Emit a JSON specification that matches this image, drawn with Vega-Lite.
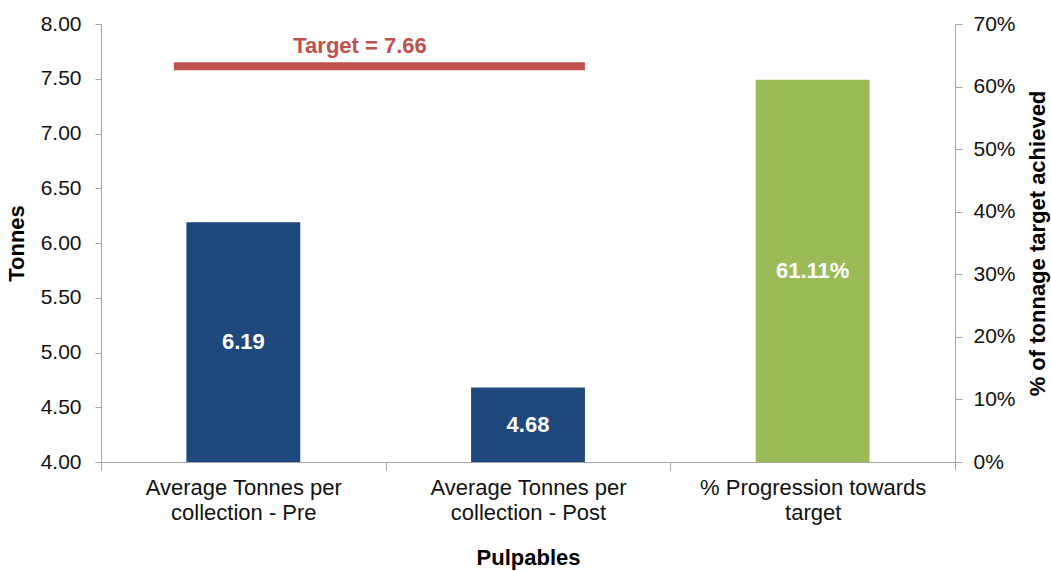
{
  "$schema": "https://vega.github.io/schema/vega-lite/v6.json",
  "width": 854,
  "height": 438,
  "autosize": "none",
  "padding": {"left": 101, "top": 24, "right": 96, "bottom": 109},
  "background": "white",
  "datasets": {
    "bars": [
      {"category": "Average Tonnes per collection - Pre", "measure": "tonnes", "value": 6.19},
      {"category": "Average Tonnes per collection - Post", "measure": "tonnes", "value": 4.68},
      {"category": "% Progression towards target", "measure": "percent", "value": 0.6111}
    ],
    "target": [
      {"from": "Average Tonnes per collection - Pre", "to": "Average Tonnes per collection - Post", "value": 7.66, "label": "Target = 7.66"}
    ]
  },
  "encoding": {
    "x": {
      "field": "category",
      "type": "nominal",
      "scale": {"domain": ["Average Tonnes per collection - Pre", "Average Tonnes per collection - Post", "% Progression towards target"], "paddingInner": 0, "paddingOuter": 0},
      "axis": {
        "title": "Pulpables",
        "titleFontWeight": "bold",
        "titleFontSize": 22,
        "titlePadding": 24,
        "labelAngle": 0,
        "labelFontSize": 22,
        "labelLineHeight": 25,
        "labelPadding": 7,
        "labelLimit": 0,
        "tickSize": 8,
        "tickBand": "extent",
        "labelExpr": "datum.label == 'Average Tonnes per collection - Pre' ? ['Average Tonnes per', 'collection - Pre'] : datum.label == 'Average Tonnes per collection - Post' ? ['Average Tonnes per', 'collection - Post'] : datum.label == '% Progression towards target' ? ['% Progression towards', 'target'] : ''"
      }
    }
  },
  "layer": [
    {
      "layer": [
        {
          "data": {"name": "bars"},
          "transform": [{"filter": "datum.measure == 'tonnes'"}],
          "mark": {"type": "bar", "color": "#1F497D", "width": {"band": 0.4}},
          "encoding": {
            "y": {"field": "value", "type": "quantitative", "scale": {"domain": [4, 8], "zero": false}, "title": "Tonnes"},
            "y2": {"datum": 4}
          }
        },
        {
          "data": {"name": "bars"},
          "transform": [{"filter": "datum.measure == 'tonnes'"}, {"calculate": "(datum.value + 4) / 2", "as": "mid"}],
          "mark": {"type": "text", "color": "white", "fontWeight": "bold", "fontSize": 22, "baseline": "middle"},
          "encoding": {
            "y": {"field": "mid", "type": "quantitative", "title": "Tonnes"},
            "text": {"field": "value", "type": "quantitative", "format": ".2f"}
          }
        },
        {
          "data": {"name": "target"},
          "mark": {"type": "rule", "color": "#C0504D", "strokeWidth": 8, "yOffset": 5},
          "encoding": {
            "x": {"field": "from", "type": "nominal", "bandPosition": 0.256},
            "x2": {"field": "to", "bandPosition": 0.7},
            "y": {"field": "value", "type": "quantitative", "title": "Tonnes"}
          }
        },
        {
          "data": {"name": "target"},
          "mark": {"type": "text", "color": "#C0504D", "fontWeight": "bold", "fontSize": 22, "baseline": "middle", "dy": -15},
          "encoding": {
            "x": {"field": "from", "type": "nominal", "bandPosition": 0.91},
            "y": {"field": "value", "type": "quantitative", "title": "Tonnes"},
            "text": {"field": "label"}
          }
        }
      ],
      "encoding": {
        "y": {
          "type": "quantitative",
          "axis": {
            "orient": "left",
            "title": "Tonnes",
            "titleFontWeight": "bold",
            "titleFontSize": 22,
            "titlePadding": 12,
            "values": [4, 4.5, 5, 5.5, 6, 6.5, 7, 7.5, 8],
            "format": ".2f",
            "labelFontSize": 21,
            "labelPadding": 14,
            "tickSize": 6
          }
        }
      }
    },
    {
      "data": {"name": "bars"},
      "transform": [{"filter": "datum.measure == 'percent'"}],
      "layer": [
        {
          "mark": {"type": "bar", "color": "#9BBB59", "width": {"band": 0.4}},
          "encoding": {
            "y": {
              "field": "value",
              "type": "quantitative",
              "scale": {"domain": [0, 0.7]},
              "axis": {
                "orient": "right",
                "title": "% of tonnage target achieved",
                "titleFontWeight": "bold",
                "titleFontSize": 22,
                "titleAngle": -90,
                "titleBaseline": "top",
                "titlePadding": 12,
                "values": [0, 0.1, 0.2, 0.3, 0.4, 0.5, 0.6, 0.7],
                "format": ".0%",
                "labelFontSize": 21,
                "labelPadding": 11,
                "tickSize": 7
              }
            }
          }
        },
        {
          "transform": [{"calculate": "datum.value / 2", "as": "mid"}],
          "mark": {"type": "text", "color": "white", "fontWeight": "bold", "fontSize": 22, "baseline": "middle"},
          "encoding": {
            "y": {"field": "mid", "type": "quantitative"},
            "text": {"field": "value", "type": "quantitative", "format": ".2%"}
          }
        }
      ]
    }
  ],
  "resolve": {"scale": {"y": "independent"}, "axis": {"y": "independent"}},
  "config": {
    "font": "Liberation Sans",
    "view": {"stroke": null},
    "axis": {
      "grid": false,
      "domainColor": "#A6A6A6",
      "tickColor": "#A6A6A6",
      "labelColor": "#111111",
      "titleColor": "#000000",
      "labelFont": "Liberation Sans",
      "titleFont": "Liberation Sans"
    }
  }
}
